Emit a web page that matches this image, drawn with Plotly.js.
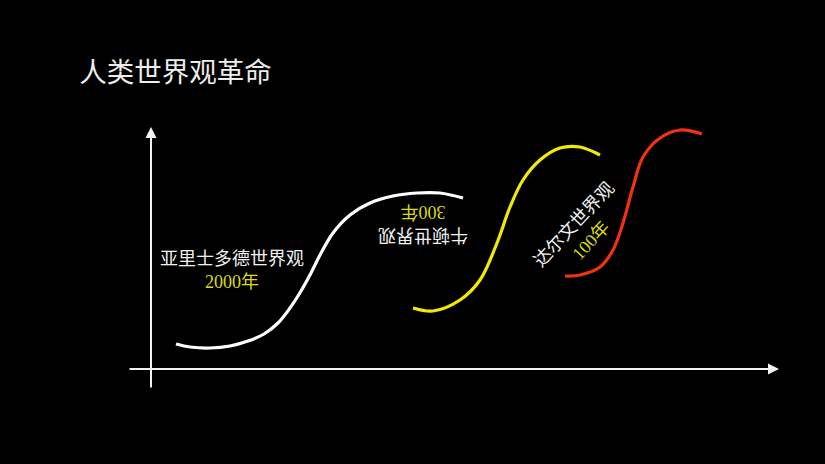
<!DOCTYPE html>
<html><head><meta charset="utf-8">
<script src="https://cdn.plot.ly/plotly-3.0.1.min.js"></script>
<style>html,body{margin:0;padding:0;background:#000;}#chart{width:825px;height:464px;}</style>
</head><body><div id="chart"></div>
<script>
// Curve points (x, y in picture units, y downward)
const aristotleX = [176, 190, 210, 230, 248, 264, 278, 290, 301, 311, 320, 333, 350, 370, 393, 417, 440, 463];
const aristotleY = [344, 347, 348, 346, 341, 334, 323, 308, 291, 273, 255, 233, 215, 203, 196, 193, 193, 198];
const newtonX = [413, 433, 460, 480, 497, 510, 523, 540, 560, 580, 600];
const newtonY = [308, 311, 300, 280, 243, 207, 180, 160, 148, 147, 155];
const darwinX = [565, 580, 600, 613, 623, 633, 643, 660, 680, 702];
const darwinY = [276, 275, 267, 250, 223, 187, 157, 138, 130, 134];
// Axis endpoints
const yAxisX = [151, 151];
const yAxisY = [389, 127];
const xAxisX = [128, 779];
const xAxisY = [369, 369];
// Labels
const titleText = "人类世界观革命";
const labelNames = ["亚里士多德世界观", "牛顿世界观", "达尔文世界观"];
const labelYears = ["2000年", "300年", "100年"];
const labelX = [232, 423, 582];
const labelY = [270, 224, 232];
const labelAngle = [0, 180, -47];

const traces = [
  {x: aristotleX, y: aristotleY, mode: 'lines', line: {color: '#ffffff', width: 3.2, shape: 'spline', smoothing: 1}, hoverinfo: 'skip'},
  {x: newtonX, y: newtonY, mode: 'lines', line: {color: '#f4ea00', width: 3.2, shape: 'spline', smoothing: 1}, hoverinfo: 'skip'},
  {x: darwinX, y: darwinY, mode: 'lines', line: {color: '#f2320f', width: 3.2, shape: 'spline', smoothing: 1}, hoverinfo: 'skip'}
];

const annotations = [
  {x: yAxisX[1], y: yAxisY[1], ax: yAxisX[0], ay: yAxisY[0], axref: 'x', ayref: 'y', xref: 'x', yref: 'y',
   showarrow: true, arrowhead: 2, arrowsize: 1.1, arrowwidth: 2, arrowcolor: '#f2f2f2', text: ''},
  {x: xAxisX[1], y: xAxisY[1], ax: xAxisX[0], ay: xAxisY[0], axref: 'x', ayref: 'y', xref: 'x', yref: 'y',
   showarrow: true, arrowhead: 2, arrowsize: 1.1, arrowwidth: 2, arrowcolor: '#f2f2f2', text: ''}
];
for (let i = 0; i < labelNames.length; i++) {
  annotations.push({
    x: labelX[i], y: labelY[i], xref: 'x', yref: 'y', showarrow: false,
    textangle: labelAngle[i], align: 'center',
    text: labelNames[i] + '<br><span style="color:#dcdc10">' + labelYears[i] + '</span>',
    font: {family: 'Liberation Serif, "Noto Sans CJK SC", serif', size: 18, color: '#f0f0f0'}
  });
}

const layout = {
  width: 825, height: 464,
  margin: {l: 0, r: 0, t: 0, b: 0},
  paper_bgcolor: '#000', plot_bgcolor: '#000',
  showlegend: false,
  title: {text: titleText, x: 0.096, xanchor: 'left', y: 0.843, yanchor: 'middle',
          font: {family: '"Noto Sans CJK SC", sans-serif', size: 27.5, color: '#ececec'}},
  xaxis: {range: [0, 825], visible: false, fixedrange: true},
  yaxis: {range: [464, 0], visible: false, fixedrange: true},
  annotations: annotations
};

Plotly.newPlot('chart', traces, layout, {displayModeBar: false, staticPlot: true});
</script>
</body></html>
